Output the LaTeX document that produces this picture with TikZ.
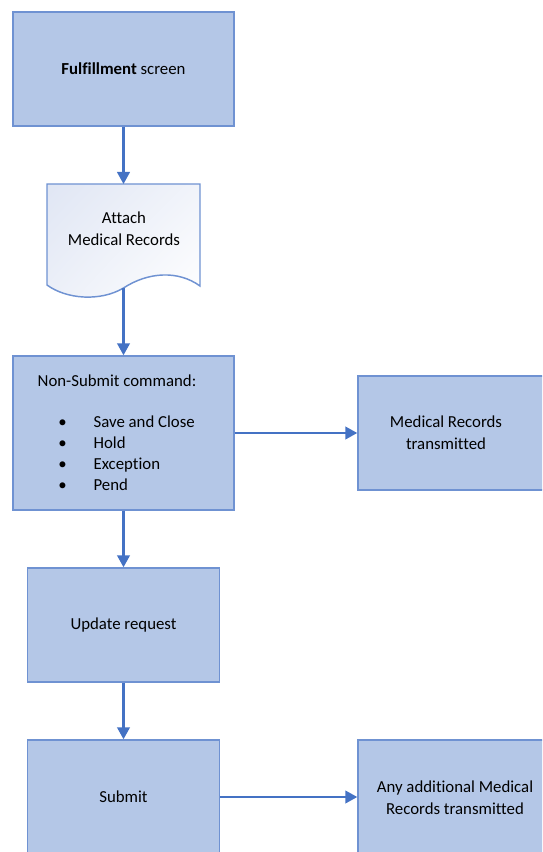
\documentclass[tikz,border=0pt]{standalone}
\usepackage{fontspec}
\setmainfont[Ligatures={NoCommon}]{Carlito}
\usetikzlibrary{arrows.meta,shadings}
\definecolor{boxfill}{HTML}{B4C7E7}
\definecolor{boxline}{HTML}{6F92D2}
\definecolor{arrowc}{HTML}{4472C4}
\definecolor{docA}{HTML}{E0E6F4}
\begin{document}
\begin{tikzpicture}[x=0.75pt,y=-0.75pt,
  box/.style={rectangle,draw=boxline,fill=boxfill,line width=1.1pt,inner sep=0pt},
  txt/.style={font=\fontsize{12.6}{16.5}\selectfont,align=center,text=black,inner sep=0pt},
  conn/.style={draw=arrowc,line width=1.6pt,-{Triangle[length=9pt,width=9.5pt]}}]
\useasboundingbox (0,0) rectangle (542,852);
\clip (0,0) rectangle (542,852);

% Fulfillment screen
\node[box,minimum width=165.75pt,minimum height=85.5pt] (ful) at (123.5,69) {};
\node[txt] (fultext) at (123.5,69) {\textbf{Fulfillment} screen};

% document shape
\shadedraw[upper left=docA,upper right=docA!45!white,lower left=docA!60!white,lower right=white,
      draw=boxline,line width=1.1pt]
  (47,184) -- (200,184) -- (200,286)
  .. controls (178,270) and (148,272) .. (123.5,288)
  .. controls (100,302) and (66,299) .. (47,285) -- cycle;
\coordinate (doctop) at (123.5,184);
\coordinate (docbot) at (123.5,288);
\node[txt] (doc) at (124,229) {Attach\\Medical Records};

% Non-Submit command
\node[box,minimum width=165.75pt,minimum height=115.5pt] (ns) at (123.5,433) {};
\node[txt] (nstitle) at (117,381) {Non-Submit command:};
\node[txt,align=left,anchor=west,font=\fontsize{12.6}{15.75}\selectfont] (nslist) at (58,453.5)
  {\makebox[26.5pt][l]{\textbullet}Save and Close\\
   \makebox[26.5pt][l]{\textbullet}Hold\\
   \makebox[26.5pt][l]{\textbullet}Exception\\
   \makebox[26.5pt][l]{\textbullet}Pend};

% Medical Records transmitted
\node[box,minimum width=150pt,minimum height=85.5pt] (mr) at (458,433) {};
\node[txt] (mrtext) at (446,433) {Medical Records\\transmitted};

% Update request
\node[box,minimum width=144pt,minimum height=85.5pt] (upd) at (123.5,625) {};
\node[txt] (updtext) at (123.5,625) {Update request};

% Submit
\node[box,minimum width=144pt,minimum height=85.5pt] (sub) at (123.5,797) {};
\node[txt] (subtext) at (123.5,797) {Submit};

% Any additional
\node[box,minimum width=150pt,minimum height=85.5pt] (any) at (458,797) {};
\node[txt] (anytext) at (455,798) {Any additional Medical\\Records transmitted};

% connectors
\draw[conn] (ful) -- (doctop);
\draw[conn] (docbot) -- (ns);
\draw[conn] (ns) -- (mr);
\draw[conn] (ns) -- (upd);
\draw[conn] (upd) -- (sub);
\draw[conn] (sub) -- (any);
\end{tikzpicture}
\end{document}
